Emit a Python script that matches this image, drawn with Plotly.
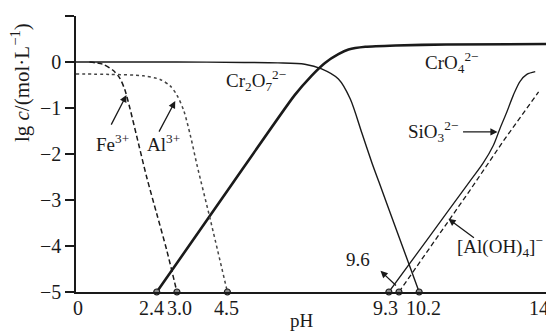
import plotly.graph_objects as go

# ---- data ----
ph_fe = [0.4, 0.8, 1.1, 1.3, 1.45, 1.6, 1.8, 2.1, 2.4, 2.7, 3.0]
lg_fe = [0.0, -0.05, -0.18, -0.35, -0.6, -1.0, -1.6, -2.5, -3.3, -4.1, -5.0]

ph_al = [0, 1.0, 2.0, 2.5, 2.8, 3.0, 3.2, 3.4, 3.6, 4.0, 4.5]
lg_al = [-0.26, -0.27, -0.3, -0.38, -0.52, -0.72, -1.05, -1.6, -2.25, -3.45, -5.0]

ph_cro4 = [2.4, 4.5, 6.5, 7.0, 7.4, 7.8, 8.1, 8.6, 9.5, 11, 14]
lg_cro4 = [-5.0, -2.8, -0.72, -0.3, -0.02, 0.17, 0.27, 0.33, 0.36, 0.38, 0.39]

ph_cr2o7 = [0, 3, 5, 6, 6.8, 7.3, 7.8, 8.15, 8.5, 8.8, 9.0, 9.55, 10.2]
lg_cr2o7 = [0, 0, -0.01, -0.02, -0.05, -0.15, -0.37, -0.8, -1.55, -2.2, -2.6, -3.7, -5.0]

ph_sio3 = [9.3, 10.5, 11.7, 12.1, 12.4, 12.6, 12.8, 13.0, 13.2, 13.4, 13.65]
lg_sio3 = [-5.0, -3.8, -2.6, -2.2, -1.82, -1.45, -1.1, -0.72, -0.42, -0.27, -0.21]

ph_aloh4 = [9.6, 10.6, 11.7, 12.7, 13.75]
lg_aloh4 = [-5.0, -3.95, -2.8, -1.72, -0.65]

x_tick_vals = [0, 2.4, 3.0, 4.5, 9.3, 10.2, 14]
x_tick_text = ["0", "2.4", "3.0", "4.5", "9.3", "10.2", "14"]
y_tick_vals = [-5, -4, -3, -2, -1, 0, 1]
intercepts = [2.4, 3.0, 4.5, 9.3, 9.6, 10.2]
x_min, x_max = 0, 14
y_min, y_max = -5, 1

# small horizontal nudges (px) for the crowded pH tick labels
x_label_nudge = [2, -5, 3, -1, -3, 4, -8]

FONT = "Liberation Serif"
INK = "#1a1a1a"

fig = go.Figure()
fig.add_trace(go.Scatter(x=ph_cr2o7, y=lg_cr2o7, mode="lines",
                         line=dict(color=INK, width=1.4, shape="spline", smoothing=0.8)))
fig.add_trace(go.Scatter(x=ph_cro4, y=lg_cro4, mode="lines",
                         line=dict(color=INK, width=2.6, shape="spline", smoothing=0.6)))
fig.add_trace(go.Scatter(x=ph_fe, y=lg_fe, mode="lines",
                         line=dict(color=INK, width=1.5, dash="5px,3px", shape="spline", smoothing=0.8)))
fig.add_trace(go.Scatter(x=ph_al, y=lg_al, mode="lines",
                         line=dict(color="#444", width=1.5, dash="dot", shape="spline", smoothing=0.8)))
fig.add_trace(go.Scatter(x=ph_sio3, y=lg_sio3, mode="lines",
                         line=dict(color=INK, width=1.3, shape="spline", smoothing=0.9)))
fig.add_trace(go.Scatter(x=ph_aloh4, y=lg_aloh4, mode="lines",
                         line=dict(color=INK, width=1.3, dash="5px,3px")))
fig.add_trace(go.Scatter(x=intercepts, y=[y_min] * len(intercepts), mode="markers",
                         marker=dict(size=6, color="#8a8a8a", line=dict(color=INK, width=1.2)),
                         cliponaxis=False))

txt = dict(font=dict(family=FONT, size=19, color=INK), showarrow=False)
ann = [
    dict(x=5.36, y=-0.41, text="Cr<sub>2</sub>O<sub>7</sub><sup>2−</sup>", **txt),
    dict(x=11.19, y=0.0, text="CrO<sub>4</sub><sup>2−</sup>", **txt),
    dict(x=1.07, y=-1.75, text="Fe<sup>3+</sup>", **txt),
    dict(x=2.6, y=-1.75, text="Al<sup>3+</sup>", **txt),
    dict(x=10.6, y=-1.52, text="SiO<sub>3</sub><sup>2−</sup>", **txt),
    dict(x=12.6, y=-4.0, text="[Al(OH)<sub>4</sub>]<sup>−</sup>", **txt),
    dict(x=8.39, y=-4.3, text="9.6", **txt),
]
arrow = dict(text="", showarrow=True, arrowhead=2, arrowsize=1.1, arrowwidth=1.3,
             arrowcolor=INK, standoff=0, startstandoff=0)
ann += [
    dict(x=1.5, y=-0.72, ax=-16, ay=31, **arrow),
    dict(x=2.95, y=-0.85, ax=-17, ay=32, **arrow),
    dict(x=12.53, y=-1.52, ax=-36, ay=0, **arrow),
    dict(x=11.07, y=-3.41, ax=27, ay=20, **arrow),
    dict(x=9.05, y=-4.54, ax=17, ay=16, **arrow),
]
# pH tick labels as text under the axis
for v, t, dx in zip(x_tick_vals, x_tick_text, x_label_nudge):
    ann.append(dict(x=v, xref="x", y=0, yref="paper", text=t, xanchor="center",
                    yanchor="top", yshift=-3, xshift=dx,
                    font=dict(family=FONT, size=20, color=INK), showarrow=False))
ann += [
    dict(xref="paper", yref="y", x=-0.118, y=-0.45, textangle=-90,
         text="lg <i>c</i>/(mol·L<sup>−1</sup>)", xanchor="center", yanchor="middle",
         font=dict(family=FONT, size=21, color=INK), showarrow=False),
    dict(xref="paper", yref="paper", x=0.48, y=-0.105, text="pH",
         xanchor="center", yanchor="middle", **txt),
]

# the page body adds an 8px offset, so the figure is 8px smaller than the window
fig.update_layout(
    width=546, height=323,
    margin=dict(l=68, r=7, t=8, b=39),
    paper_bgcolor="white", plot_bgcolor="white",
    showlegend=False,
    font=dict(family=FONT, size=19, color=INK),
    annotations=ann,
    shapes=[dict(type="line", xref="x", yref="y", x0=x_max, x1=x_max,
                 y0=y_min, y1=y_min + 0.15, line=dict(color=INK, width=1.5))],
)
fig.update_xaxes(range=[x_min, x_max], showgrid=False, zeroline=False,
                 showline=True, linecolor=INK, linewidth=1.5,
                 tickvals=x_tick_vals, showticklabels=False, ticks="")
fig.update_yaxes(range=[y_min, y_max], showgrid=False, zeroline=False,
                 showline=True, linecolor=INK, linewidth=1.5,
                 tickvals=y_tick_vals, ticks="outside", ticklen=9, tickwidth=1.5,
                 tickcolor=INK, tickfont=dict(family=FONT, size=20, color=INK))

fig.write_html("out.html")
